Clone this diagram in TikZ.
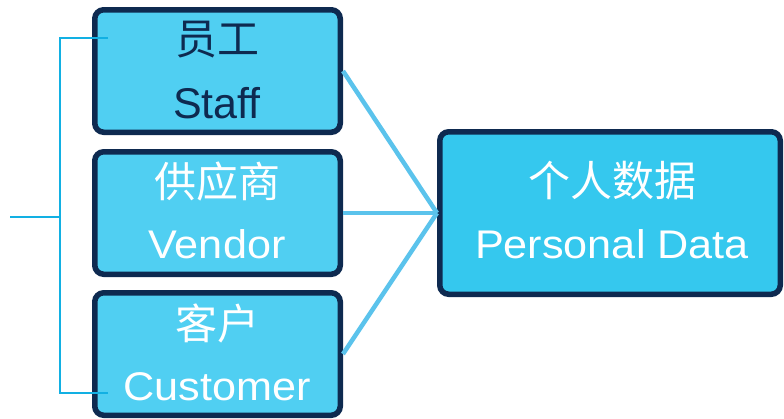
\documentclass[tikz,border=0pt]{standalone}
\usepackage{fontspec}
\setmainfont{Liberation Sans}
\newfontfamily\cjk{Noto Sans CJK SC}
\definecolor{boxfill}{HTML}{50CFF2}
\definecolor{bigfill}{HTML}{35C8EE}
\definecolor{navy}{HTML}{0E2A50}
\definecolor{conn}{HTML}{5BC3EC}
\definecolor{brk}{HTML}{12B0E3}
\tikzset{
  srcbox/.style={draw=navy, line width=5.5pt, fill=boxfill, rounded corners=9pt,
    minimum width=245.5pt, minimum height=122.5pt, inner sep=0pt},
  bigbox/.style={draw=navy, line width=5.5pt, fill=bigfill, rounded corners=9pt,
    minimum width=340.5pt, minimum height=162.5pt, inner sep=0pt},
  cjktxt/.style={inner sep=0pt, font=\cjk\fontsize{42}{50}\selectfont},
  lattxt/.style={inner sep=0pt, anchor=base, font=\fontsize{40}{48}\selectfont},
  link/.style={draw=conn, line width=4.5pt},
  bracket/.style={draw=brk, line width=2.2pt},
}
\begin{document}
\begin{tikzpicture}[x=1pt,y=-1pt]
\useasboundingbox (0,0) rectangle (784,418);
\node[srcbox] (staff) at (217.5,71) {};
\node[srcbox] (vendor) at (217.5,213) {};
\node[srcbox] (cust) at (217.5,354) {};
\node[bigbox] (pd) at (610,213) {};
% texts
\node[cjktxt, text=navy] (t1a) at (217,40) {员工};
\node[lattxt, text=navy, font=\fontsize{43}{50}\selectfont] (t1b) at (217,118) {Staff};
\node[cjktxt, text=white] (t2a) at (217,182) {供应商};
\node[lattxt, text=white] (t2b) at (217,258) {\scalebox{1.08}[1]{Vendor}};
\node[cjktxt, text=white] (t3a) at (217,323) {客户};
\node[lattxt, text=white] (t3b) at (217,400) {\scalebox{1.08}[1]{Customer}};
\node[cjktxt, text=white] (t4a) at (612,181) {个人数据};
\node[lattxt, text=white] (t4b) at (612,258) {\scalebox{1.08}[1]{Personal Data}};
% connectors
\draw[link] (staff.east) -- (pd.west);
\draw[link] (vendor.east) -- (pd.west);
\draw[link] (cust.east) -- (pd.west);
% bracket
\coordinate (btop) at (108,38);
\coordinate (bbot) at (108,393);
\coordinate (bmid) at (60,217);
\coordinate (bend) at (10,217);
\draw[bracket] (btop) -- (60,38) -- (60,393) -- (bbot);
\draw[bracket] (bmid) -- (bend);
\end{tikzpicture}
\end{document}
